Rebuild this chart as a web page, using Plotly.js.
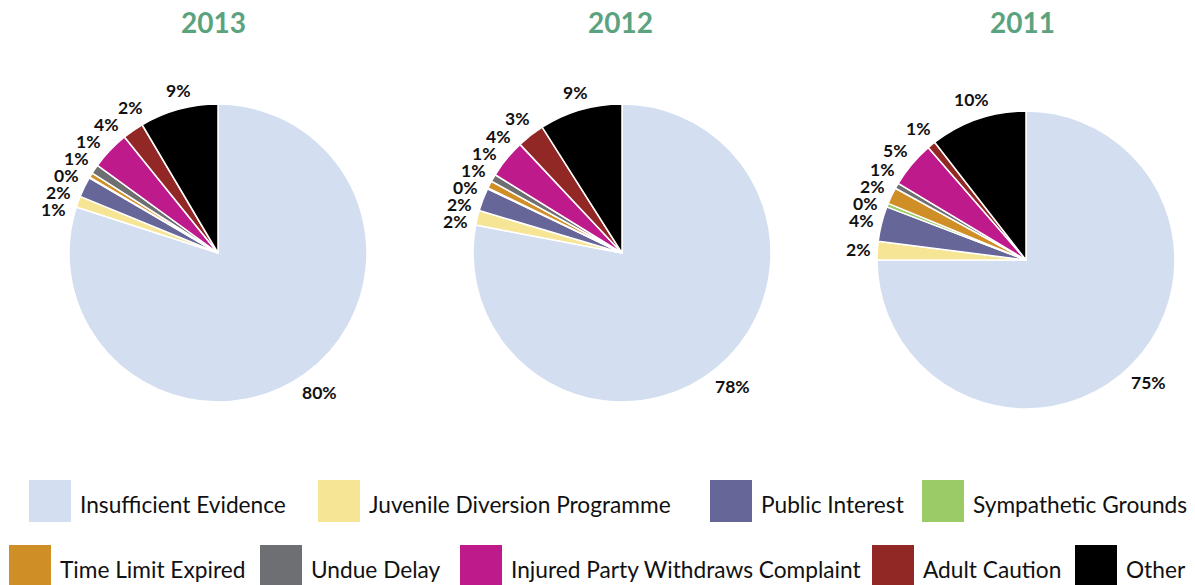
<!DOCTYPE html>
<html>
<head>
<meta charset="utf-8">
<script src="https://cdn.plot.ly/plotly-3.0.1.min.js"></script>
<style>html,body{margin:0;padding:0;background:#fff}#chart{width:1195px;height:585px}</style>
</head>
<body>
<div id="chart"></div>
<script>
// ---- data ----
var categories = ["Insufficient Evidence", "Juvenile Diversion Programme", "Public Interest", "Sympathetic Grounds", "Time Limit Expired", "Undue Delay", "Injured Party Withdraws Complaint", "Adult Caution", "Other"];
var years = ["2013", "2012", "2011"];
var values2013 = [80.0, 1.2, 2.2, 0.1, 0.5, 1.0, 4.2, 2.3, 8.5];
var values2012 = [78.0, 1.6, 2.5, 0.1, 0.8, 0.8, 4.2, 3.0, 9.0];
var values2011 = [75.0, 2.0, 3.8, 0.4, 1.8, 0.6, 5.0, 0.9, 10.5];
var labels2013 = ["80%", "1%", "2%", "0%", "1%", "1%", "4%", "2%", "9%"];
var labels2012 = ["78%", "2%", "2%", "0%", "1%", "1%", "4%", "3%", "9%"];
var labels2011 = ["75%", "2%", "4%", "0%", "2%", "1%", "5%", "1%", "10%"];

// ---- style ----
var colors = ["#D3DFF0", "#F7E596", "#676699", "#9ACB66", "#D08E26", "#6E6F72", "#BE1A8C", "#922825", "#000000"];
var W = 1195, H = 585;
var FONT = "Lato, 'Open Sans', sans-serif";
function px(x) { return x / W; }
function py(y) { return 1 - y / H; }

var pieCenters = [[218, 253], [622, 253], [1026, 260]];
var pieR = 149;
var titleX = [213, 620, 1022];
var labelSize = 17.5, labelGap = 6, labelStep = 17;

var allValues = [values2013, values2012, values2011];
var allLabels = [labels2013, labels2012, labels2011];

var data = years.map(function (yr, i) {
  var c = pieCenters[i];
  return {
    type: "pie",
    labels: categories,
    values: allValues[i],
    text: allLabels[i],
    textinfo: "none",
    sort: false,
    direction: "clockwise",
    rotation: 0,
    hole: 0,
    marker: { colors: colors, line: { color: "#ffffff", width: 1.5 } },
    showlegend: false,
    automargin: false,
    domain: { x: [px(c[0] - pieR), px(c[0] + pieR)], y: [py(c[1] + pieR), py(c[1] - pieR)] },
    hoverinfo: "label+text"
  };
});

var annotations = years.map(function (yr, i) {
  return {
    text: "<b>" + yr + "</b>", xref: "paper", yref: "paper",
    x: px(titleX[i]), y: py(22), xanchor: "center", yanchor: "middle",
    showarrow: false, font: { family: FONT, size: 28, color: "#5BA37E" }
  };
});

// ---- outside percentage labels, placed from the slice angles ----
function placeLabels(values, texts, c) {
  var total = values.reduce(function (a, b) { return a + b; }, 0);
  var cum = 0, items = [];
  values.forEach(function (v, k) {
    var th = 2 * Math.PI * (cum + v / 2) / total;
    cum += v;
    var s = Math.sin(th), co = Math.cos(th);
    var hw = ((texts[k].length - 1) * 10 + 15) / 2, hh = 9;
    var Rc = pieR + labelGap + Math.abs(s) * hw + Math.abs(co) * hh;
    items.push({ k: k, Rc: Rc, left: s < 0, x: c[0] + Rc * s, y0: c[1] - Rc * co });
  });
  [true, false].forEach(function (side) {
    var sideItems = items.filter(function (d) { return d.left === side; })
      .sort(function (a, b) { return a.y0 - b.y0; });
    var clusters = sideItems.map(function (d) { return { m: [d] }; });
    function layoutCluster(cl) {
      var mean = cl.m.reduce(function (a, d) { return a + d.y0; }, 0) / cl.m.length;
      cl.top = mean - (cl.m.length - 1) / 2 * labelStep;
      cl.m.forEach(function (d, j) { d.y = cl.top + j * labelStep; });
      cl.bottom = cl.top + (cl.m.length - 1) * labelStep;
    }
    clusters.forEach(layoutCluster);
    var changed = true;
    while (changed) {
      changed = false;
      for (var j = 0; j + 1 < clusters.length; j++) {
        if (clusters[j].bottom + labelStep > clusters[j + 1].top + 0.01) {
          clusters[j].m = clusters[j].m.concat(clusters[j + 1].m);
          clusters.splice(j + 1, 1);
          layoutCluster(clusters[j]);
          changed = true;
          break;
        }
      }
    }
    sideItems.forEach(function (d) {
      var dy = d.y - c[1];
      var dx = Math.sqrt(Math.max(d.Rc * d.Rc - dy * dy, 0));
      d.x = c[0] + (d.left ? -dx : dx);
    });
  });
  return items;
}

years.forEach(function (yr, i) {
  placeLabels(allValues[i], allLabels[i], pieCenters[i]).forEach(function (d) {
    annotations.push({
      text: "<b>" + allLabels[i][d.k] + "</b>", xref: "paper", yref: "paper",
      x: px(d.x), y: py(d.y), xanchor: "center", yanchor: "middle",
      showarrow: false, borderpad: 0,
      font: { family: FONT, size: labelSize, color: "#111111" }
    });
  });
});

// ---- legend (custom, large swatches) ----
var legendRow = [0, 0, 0, 0, 1, 1, 1, 1, 1];
var legendSwatchX = [29, 318, 710, 922, 9, 260, 460, 872, 1075];
var legendRowY = [501, 566];
var sw = 42;
var shapes = [];
categories.forEach(function (cat, k) {
  var x0 = legendSwatchX[k], yc = legendRowY[legendRow[k]];
  shapes.push({
    type: "rect", xref: "paper", yref: "paper",
    x0: px(x0), x1: px(x0 + sw), y0: py(yc + sw / 2), y1: py(yc - sw / 2),
    fillcolor: colors[k], line: { width: 0 }
  });
  annotations.push({
    text: cat, xref: "paper", yref: "paper",
    x: px(x0 + sw + 7), y: py(yc + 3), xanchor: "left", yanchor: "middle",
    showarrow: false, font: { family: FONT, size: 22.7, color: "#111111" }
  });
});

var layout = {
  width: W, height: H,
  margin: { l: 0, r: 0, t: 0, b: 0 },
  paper_bgcolor: "#ffffff",
  showlegend: false,
  annotations: annotations,
  shapes: shapes,
  font: { family: FONT }
};

Plotly.newPlot("chart", data, layout, { displayModeBar: false, staticPlot: true });
</script>
</body>
</html>
